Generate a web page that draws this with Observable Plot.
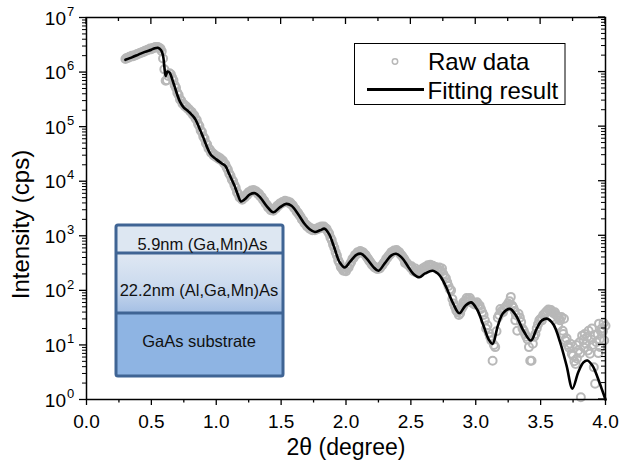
<!DOCTYPE html>
<html><head><meta charset="utf-8">
<script src="https://cdn.jsdelivr.net/npm/d3@7"></script>
<script src="https://cdn.jsdelivr.net/npm/@observablehq/plot@0.6"></script>
<style>
html,body{margin:0;padding:0;background:#fff;}
#chart{width:621px;height:466px;}
svg{font-family:"Liberation Sans",Arial,sans-serif;}
</style></head><body><div id="chart"></div>
<script>
// ---- Fitting result (2θ in degree, log10 of intensity in cps) ----
const fitTheta = [0.30,0.35,0.40,0.45,0.50,0.52,0.55,0.575,0.59,0.60,0.61,0.625,0.64,0.67,0.70,0.72,0.75,0.78,0.81,0.84,0.87,0.90,0.93,0.96,1.00,1.04,1.07,1.10,1.14,1.17,1.19,1.22,1.26,1.30,1.34,1.39,1.44,1.49,1.54,1.58,1.63,1.68,1.72,1.76,1.80,1.835,1.87,1.91,1.95,1.99,2.03,2.08,2.117,2.16,2.21,2.25,2.30,2.35,2.386,2.43,2.48,2.52,2.565,2.61,2.668,2.72,2.77,2.82,2.873,2.92,2.965,3.01,3.06,3.10,3.13,3.17,3.21,3.263,3.31,3.37,3.425,3.47,3.51,3.552,3.60,3.65,3.70,3.745,3.79,3.83,3.86,3.90,3.94,3.97,4.00];
const fitLogIntensity = [6.225,6.27,6.32,6.37,6.41,6.43,6.445,6.40,6.30,6.10,5.93,6.01,5.99,5.80,5.58,5.46,5.35,5.29,5.22,5.13,4.97,4.80,4.62,4.48,4.40,4.33,4.28,4.13,3.92,3.73,3.63,3.67,3.76,3.78,3.70,3.54,3.43,3.52,3.585,3.55,3.40,3.22,3.12,3.07,3.10,3.13,3.03,2.78,2.52,2.42,2.52,2.65,2.67,2.58,2.43,2.36,2.50,2.64,2.67,2.60,2.43,2.30,2.24,2.31,2.36,2.28,2.07,1.79,1.58,1.72,1.78,1.65,1.35,1.10,1.02,1.35,1.58,1.66,1.54,1.25,1.08,1.30,1.45,1.48,1.37,1.05,0.62,0.20,0.50,0.68,0.715,0.62,0.40,0.20,0.0];

// ---- Raw data (2θ in degree, log10 of intensity in cps) ----
const rawTheta = [0.30,0.32,0.34,0.36,0.38,0.40,0.42,0.44,0.46,0.48,0.50,0.52,0.54,0.56,0.58,0.60,0.62,0.64,0.66,0.68,0.70,0.72,0.74,0.76,0.78,0.80,0.82,0.84,0.86,0.88,0.90,0.92,0.94,0.96,0.98,1.00,1.02,1.04,1.06,1.08,1.10,1.12,1.14,1.16,1.18,1.20,1.22,1.24,1.26,1.28,1.30,1.32,1.34,1.36,1.38,1.40,1.42,1.44,1.46,1.48,1.50,1.52,1.54,1.56,1.58,1.60,1.62,1.64,1.66,1.68,1.70,1.72,1.74,1.76,1.78,1.80,1.82,1.84,1.86,1.88,1.90,1.92,1.94,1.96,1.98,2.00,2.02,2.04,2.06,2.08,2.10,2.12,2.14,2.16,2.18,2.20,2.22,2.24,2.26,2.28,2.30,2.32,2.34,2.36,2.38,2.40,2.42,2.44,2.46,2.48,2.50,2.52,2.54,2.56,2.58,2.60,2.62,2.64,2.66,2.68,
0.31,0.33,0.35,0.37,0.39,0.41,0.43,0.45,0.47,0.49,0.51,0.53,0.55,0.57,0.59,0.61,0.63,0.65,0.67,0.69,0.71,0.73,0.75,0.77,0.79,0.81,0.83,0.85,0.87,0.89,0.91,0.93,0.95,0.97,0.99,1.01,1.03,1.05,1.07,1.09,1.11,1.13,1.15,1.17,1.19,1.21,1.23,1.25,1.27,1.29,1.31,1.33,1.35,1.37,1.39,1.41,1.43,1.45,1.47,1.49,1.51,1.53,1.55,1.57,1.59,1.61,1.63,1.65,1.67,1.69,1.71,1.73,1.75,1.77,1.79,1.81,1.83,1.85,1.87,1.89,1.91,1.93,1.95,1.97,1.99,2.01,2.03,2.05,2.07,2.09,2.11,2.13,2.15,2.17,2.19,2.21,2.23,2.25,2.27,2.29,2.31,2.33,2.35,2.37,2.39,2.41,2.43,2.45,2.47,2.49,2.51,2.53,2.55,2.57,2.59,2.61,2.63,2.65,2.67,2.69,
2.70,2.71,2.72,2.73,2.74,2.75,2.76,2.77,2.78,2.79,2.80,2.81,2.82,2.83,2.84,2.85,2.86,2.87,2.88,2.89,2.90,2.91,2.92,2.93,2.94,2.95,2.96,2.97,2.98,2.99,3.00,3.01,3.02,3.03,3.04,3.05,3.06,3.07,3.08,3.09,3.10,3.11,3.12,3.13,3.14,3.15,3.16,3.17,3.18,3.19,3.20,3.21,3.22,3.23,3.24,3.25,3.26,3.27,3.28,3.29,3.30,3.31,3.32,3.33,3.34,3.35,3.36,3.37,3.38,3.39,3.40,3.41,3.42,3.43,3.44,3.45,3.46,3.47,3.48,3.49,3.50,3.51,3.52,3.53,3.54,3.55,3.56,3.57,3.58,3.59,3.60,3.61,3.62,3.63,3.64,3.65,3.66,3.67,3.68,3.69,3.70,3.71,3.72,3.73,3.74,3.75,3.76,3.77,3.78,3.79,3.80,3.81,3.82,3.83,3.84,3.85,3.86,3.87,3.88,3.89,3.90,3.91,3.92,3.93,3.94,3.95,3.96,3.97,3.98,3.99,4.00,
2.455,2.505,2.535,2.905,2.955,3.305,3.585,3.635,3.675,3.775,3.805,3.835,3.865,3.895,3.915,3.945,3.955,3.965,3.985];
const rawLogIntensity = [6.24,6.26,6.28,6.29,6.31,6.33,6.35,6.37,6.39,6.41,6.42,6.44,6.45,6.44,6.38,6.05,5.85,5.98,5.90,5.76,5.62,5.50,5.42,5.37,5.33,5.28,5.22,5.15,5.05,4.93,4.82,4.70,4.60,4.52,4.47,4.44,4.41,4.38,4.33,4.25,4.14,4.03,3.93,3.80,3.70,3.66,3.70,3.75,3.80,3.82,3.81,3.77,3.72,3.66,3.59,3.52,3.47,3.46,3.50,3.55,3.59,3.61,3.62,3.60,3.57,3.51,3.44,3.38,3.30,3.23,3.17,3.13,3.10,3.10,3.12,3.14,3.15,3.14,3.08,2.97,2.84,2.70,2.55,2.43,2.36,2.35,2.42,2.52,2.60,2.66,2.69,2.70,2.67,2.61,2.54,2.47,2.42,2.39,2.40,2.46,2.53,2.60,2.66,2.70,2.72,2.71,2.66,2.60,2.52,2.46,2.41,2.35,2.33,2.32,2.35,2.38,2.42,2.44,2.45,2.42,
6.26,6.28,6.30,6.31,6.33,6.35,6.37,6.39,6.41,6.43,6.44,6.46,6.46,6.43,6.25,5.84,5.93,5.96,5.85,5.71,5.58,5.48,5.41,5.37,5.32,5.27,5.21,5.12,5.01,4.90,4.78,4.67,4.58,4.52,4.48,4.45,4.42,4.38,4.31,4.21,4.10,4.00,3.88,3.76,3.69,3.70,3.75,3.80,3.83,3.84,3.81,3.77,3.71,3.64,3.57,3.51,3.49,3.50,3.55,3.59,3.62,3.64,3.63,3.61,3.56,3.49,3.42,3.35,3.28,3.21,3.17,3.14,3.12,3.13,3.15,3.17,3.17,3.13,3.04,2.92,2.78,2.64,2.50,2.40,2.37,2.40,2.48,2.58,2.65,2.70,2.72,2.70,2.65,2.58,2.51,2.45,2.42,2.40,2.44,2.50,2.58,2.64,2.70,2.73,2.74,2.70,2.64,2.57,2.50,2.45,2.40,2.36,2.35,2.36,2.40,2.43,2.46,2.47,2.45,2.43,
2.40,2.38,2.42,2.36,2.40,2.30,2.25,2.22,2.15,2.08,2.02,2.00,1.84,1.76,1.70,1.63,1.60,1.55,1.58,1.66,1.70,1.74,1.80,1.86,1.84,1.80,1.82,1.78,1.76,1.74,1.76,1.78,1.74,1.72,1.66,1.60,1.55,1.45,1.30,1.36,1.22,1.15,1.08,0.71,1.00,0.96,1.25,1.50,1.55,1.66,1.62,1.60,1.66,1.70,1.72,1.76,1.80,1.88,1.72,1.68,1.62,1.55,1.26,1.57,1.50,1.42,1.30,1.26,1.20,1.15,1.10,0.96,0.71,0.71,1.02,1.15,1.20,1.30,1.38,1.45,1.48,1.45,1.55,1.57,1.60,1.62,1.65,1.63,1.64,1.60,1.58,1.60,1.55,1.52,1.50,1.45,1.51,1.26,1.48,1.08,1.12,1.00,0.95,1.02,0.84,0.80,0.70,0.65,0.75,0.90,1.05,0.04,1.17,1.10,1.20,1.02,1.15,1.26,0.84,1.10,1.00,0.59,0.29,1.05,1.20,1.39,0.96,1.30,1.25,1.08,1.35,
2.50,2.44,2.40,1.78,1.86,1.45,1.50,1.35,1.20,1.00,0.85,0.95,0.90,1.30,1.18,0.85,1.10,1.25,1.40];

// ---- Axis ticks and texts ----
const xTickValues = [0,0.5,1,1.5,2,2.5,3,3.5,4];
const xTickLabels = ["0.0","0.5","1.0","1.5","2.0","2.5","3.0","3.5","4.0"];
const xMinorValues = [0.25,0.75,1.25,1.75,2.25,2.75,3.25,3.75];
const yExponents = [0,1,2,3,4,5,6,7];
const xTitle = "2θ (degree)";
const yTitle = "Intensity (cps)";
const legendLabels = ["Raw data","Fitting result"];
const insetLabels = ["5.9nm (Ga,Mn)As","22.2nm (Al,Ga,Mn)As","GaAs substrate"];

// tables built from the arrays
const fit = fitTheta.map((t,i)=>({theta:t, intensity:Math.pow(10, fitLogIntensity[i])}));
const raw = rawTheta.map((t,i)=>({theta:t, intensity:Math.pow(10, rawLogIntensity[i])}));
const yMajor = yExponents.map(e=>Math.pow(10,e));
const yMinor = [];
for (const e of yExponents.slice(0,-1)) for (let m=2;m<=9;m++) yMinor.push(m*Math.pow(10,e));

const FONT = '"Liberation Sans",Arial,sans-serif';
const W=621,H=466,ML=86,MR=16,MT=17,MB=67;

const chart = Plot.plot({
  width:W, height:H, marginLeft:ML, marginRight:MR, marginTop:MT, marginBottom:MB,
  style:{fontFamily:FONT, fontSize:"19px", background:"white", color:"black"},
  x:{domain:[0,4], label:null},
  y:{type:"log", domain:[1,1e7], label:null},
  marks:[
    Plot.dot(raw,{x:"theta", y:"intensity", r:4, stroke:"#b8b8b8", strokeWidth:2, fill:"none"}),
    Plot.line(fit,{x:"theta", y:"intensity", curve:"catmull-rom", stroke:"#000", strokeWidth:2.6}),
    Plot.axisX(xTickValues,{tickSize:6, tickPadding:9, tickFormat:(d)=>xTickLabels[xTickValues.indexOf(d)], fontSize:19, strokeWidth:1.3, label:null}),
    Plot.axisX(xMinorValues,{tickSize:3.5, tickFormat:()=>"", strokeWidth:1.3, label:null}),
    Plot.axisY(yMajor,{tickSize:7, tickFormat:()=>"", strokeWidth:1.3, label:null}),
    Plot.axisY(yMinor,{tickSize:4, tickFormat:()=>"", strokeWidth:1, label:null}),
    Plot.text(yMajor,{y:d=>d, frameAnchor:"left", text:()=>"10", textAnchor:"end", lineAnchor:"middle", dx:-20.5, dy:1, fontSize:19, fill:"#000"}),
    Plot.text(yMajor,{y:d=>d, frameAnchor:"left", text:(d,i)=>String(yExponents[i]), textAnchor:"start", lineAnchor:"middle", dx:-19.5, dy:-6, fontSize:13, fill:"#000"}),
    Plot.text([xTitle],{frameAnchor:"bottom", text:d=>d, textAnchor:"middle", lineAnchor:"middle", dy:48, fontSize:23, fill:"#000"}),
    Plot.text([yTitle],{frameAnchor:"left", text:d=>d, rotate:-90, textAnchor:"middle", lineAnchor:"middle", dx:-65, dy:16, fontSize:24, fill:"#000"}),
    Plot.frame({stroke:"#000", strokeWidth:1.5})
  ]
});
document.getElementById("chart").appendChild(chart);

// inward ticks on top and right, from the library's scales
const sx = chart.scale("x"), sy = chart.scale("y");
const svg = d3.select(chart);
const frameTop = MT, frameRight = W-MR;
const tg = svg.append("g").attr("stroke","#000").attr("stroke-width",1.3);
xTickValues.forEach(v=>tg.append("line").attr("x1",sx.apply(v)).attr("x2",sx.apply(v)).attr("y1",frameTop).attr("y2",frameTop+7));
xMinorValues.forEach(v=>tg.append("line").attr("x1",sx.apply(v)).attr("x2",sx.apply(v)).attr("y1",frameTop).attr("y2",frameTop+4));
yMajor.forEach(v=>tg.append("line").attr("y1",sy.apply(v)).attr("y2",sy.apply(v)).attr("x1",frameRight).attr("x2",frameRight-7));
yMinor.forEach(v=>tg.append("line").attr("y1",sy.apply(v)).attr("y2",sy.apply(v)).attr("x1",frameRight).attr("x2",frameRight-4).attr("stroke-width",1));

// legend
const lg = svg.append("g").attr("font-family",FONT).attr("text-anchor","start");
lg.append("rect").attr("x",354.5).attr("y",43.5).attr("width",210.5).attr("height",61).attr("fill","#fff").attr("stroke","#000").attr("stroke-width",1);
lg.append("circle").attr("cx",395).attr("cy",61.5).attr("r",2.7).attr("fill","none").attr("stroke","#b8b8b8").attr("stroke-width",1.5);
lg.append("line").attr("x1",367).attr("x2",424).attr("y1",89.5).attr("y2",89.5).attr("stroke","#000").attr("stroke-width",2.8);
lg.append("text").attr("x",428).attr("y",70).attr("font-size",24).attr("text-anchor","start").text(legendLabels[0]);
lg.append("text").attr("x",427.5).attr("y",98.5).attr("font-size",24).attr("text-anchor","start").text(legendLabels[1]);

// inset: layer structure
const defs = svg.append("defs");
const grad = defs.append("linearGradient").attr("id","midLayer").attr("x1",0).attr("y1",0).attr("x2",0).attr("y2",1);
grad.append("stop").attr("offset","0%").attr("stop-color","#dfe8f3");
grad.append("stop").attr("offset","55%").attr("stop-color","#cbdaee");
grad.append("stop").attr("offset","100%").attr("stop-color","#a4bfe4");
const ig = svg.append("g").attr("font-family",FONT);
const ix=116, iw=167, ly=[225,253,313,376];
ig.append("rect").attr("x",ix).attr("y",ly[0]).attr("width",iw).attr("height",ly[1]-ly[0]).attr("fill","#dde7f2");
ig.append("rect").attr("x",ix).attr("y",ly[1]).attr("width",iw).attr("height",ly[2]-ly[1]).attr("fill","url(#midLayer)");
ig.append("rect").attr("x",ix).attr("y",ly[2]).attr("width",iw).attr("height",ly[3]-ly[2]).attr("fill","#8eb4e3");
[ly[1],ly[2]].forEach(y=>ig.append("line").attr("x1",ix).attr("x2",ix+iw).attr("y1",y).attr("y2",y).attr("stroke","#3f6494").attr("stroke-width",3));
ig.append("rect").attr("x",ix).attr("y",ly[0]).attr("width",iw).attr("height",ly[3]-ly[0]).attr("rx",2).attr("fill","none").attr("stroke","#3f6494").attr("stroke-width",3);
ig.append("text").attr("x",202.5).attr("y",250).attr("text-anchor","middle").attr("font-size",16.5).attr("fill","#111").text(insetLabels[0]);
ig.append("text").attr("x",199).attr("y",296).attr("text-anchor","middle").attr("font-size",16.5).attr("fill","#111").text(insetLabels[1]);
ig.append("text").attr("x",199).attr("y",347).attr("text-anchor","middle").attr("font-size",16.5).attr("fill","#111").text(insetLabels[2]);
</script>
</body></html>
